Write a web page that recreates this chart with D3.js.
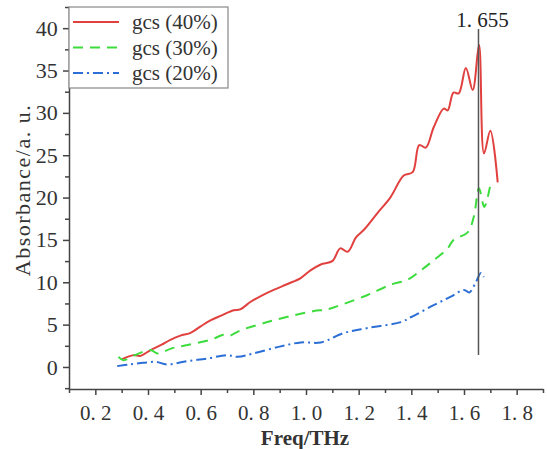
<!DOCTYPE html>
<html>
<head>
<meta charset="utf-8">
<script src="https://cdn.jsdelivr.net/npm/d3@7"></script>
<style>
  body { margin: 0; background: #fff; }
</style>
</head>
<body>
<svg id="chart"></svg>
<script>
// series values: [freq (THz), absorbance]
const gcs40 = [[0.30,0.9],[0.345,1.4],[0.37,1.3],[0.41,2.0],[0.45,2.6],[0.485,3.2],[0.523,3.7],[0.56,4.0],
  [0.60,4.8],[0.637,5.5],[0.68,6.1],[0.725,6.7],[0.75,6.8],[0.79,7.7],[0.83,8.4],[0.877,9.1],[0.93,9.8],
  [0.98,10.5],[1.017,11.4],[1.056,12.1],[1.10,12.5],[1.13,14.0],[1.158,13.6],[1.19,15.3],[1.22,16.2],
  [1.272,18.2],[1.32,20.0],[1.371,22.6],[1.405,23.0],[1.43,26.2],[1.455,25.9],[1.485,28.3],
  [1.523,30.5],[1.538,30.3],[1.56,32.4],[1.58,32.3],[1.607,35.3],[1.633,32.7],[1.657,38.0],[1.676,25.2],
  [1.70,27.9],[1.728,21.8]];
const gcs30 = [[0.288,1.2],[0.307,0.8],[0.35,1.4],[0.41,2.0],[0.436,1.6],[0.49,2.2],[0.55,2.6],[0.637,3.2],
  [0.687,3.8],[0.71,3.7],[0.75,4.3],[0.853,5.3],[0.953,6.1],[1.03,6.6],[1.08,6.8],[1.13,7.3],[1.234,8.5],
  [1.32,9.7],[1.386,10.3],[1.436,11.4],[1.485,12.6],[1.538,14.0],[1.56,15.0],[1.614,15.9],[1.637,17.7],
  [1.657,21.1],[1.677,18.9],[1.70,21.5]];
const gcs20 = [[0.283,0.1],[0.33,0.3],[0.383,0.5],[0.43,0.6],[0.473,0.3],[0.55,0.7],[0.626,1.0],
  [0.70,1.4],[0.74,1.2],[0.80,1.6],[0.90,2.4],[0.98,2.9],[1.056,2.9],[1.143,4.0],[1.234,4.6],
  [1.36,5.3],[1.40,5.9],[1.485,7.3],[1.55,8.3],[1.60,9.1],[1.62,8.8],[1.645,10.0],[1.664,11.1],
  [1.675,10.6]];
const seriesNames = ["gcs (40%)", "gcs (30%)", "gcs (20%)"];
const xTicks = [0.2, 0.4, 0.6, 0.8, 1.0, 1.2, 1.4, 1.6, 1.8];
const xMinor = [0.1, 0.3, 0.5, 0.7, 0.9, 1.1, 1.3, 1.5, 1.7, 1.9];
const yTicks = [0, 5, 10, 15, 20, 25, 30, 35, 40];
const yMinor = [-2.5, 2.5, 7.5, 12.5, 17.5, 22.5, 27.5, 32.5, 37.5, 42.5];
const markerFreq = 1.655;
const markerLabel = "1. 655";
const markerRange = [1.4, 39.9];

const width = 547, height = 449;
const font = "'Liberation Serif', 'DejaVu Serif', serif";
const svg = d3.select("#chart").attr("width", width).attr("height", height);

const x = d3.scaleLinear().domain([0.1, 1.9]).range([69, 543]);
const y = d3.scaleLinear().domain([-2.6, 42.5]).range([389, 7]);

const fmtX = d => d3.format(".1f")(d).replace(".", ". ");

// axes
const gx = svg.append("g").attr("transform", "translate(0,389)")
  .call(d3.axisBottom(x).tickValues(xTicks).tickSize(6).tickSizeOuter(0).tickFormat(fmtX));
svg.append("g").attr("transform", "translate(0,389)")
  .call(d3.axisBottom(x).tickValues(xMinor).tickSize(4).tickFormat(""))
  .call(g => g.select(".domain").remove());
const gy = svg.append("g").attr("transform", "translate(69,0)")
  .call(d3.axisLeft(y).tickValues(yTicks).tickSize(6).tickSizeOuter(0));
svg.append("g").attr("transform", "translate(69,0)")
  .call(d3.axisLeft(y).tickValues(yMinor).tickSize(4).tickFormat(""))
  .call(g => g.select(".domain").remove());

svg.selectAll(".domain, .tick line").attr("stroke", "#444").attr("stroke-width", 1.5);
gx.selectAll("text").attr("font-size", 21).attr("font-family", font).attr("dy", "1.05em").attr("fill", "#333");
gy.selectAll("text").attr("font-size", 22).attr("font-family", font).attr("dx", "-0.1em").attr("fill", "#333");

svg.append("text").attr("x", 305).attr("y", 445).attr("text-anchor", "middle")
  .attr("font-family", font).attr("font-size", 21).attr("font-weight", "bold").attr("fill", "#333")
  .text("Freq/THz");
svg.append("text").attr("transform", "translate(30,190) rotate(-90)").attr("text-anchor", "middle")
  .attr("font-family", font).attr("font-size", 22).attr("letter-spacing", 1.5).attr("fill", "#333")
  .text("Absorbance/a. u.");

// lines
const line = d3.line().x(d => x(d[0])).y(d => y(d[1])).curve(d3.curveCatmullRom.alpha(0.5));
const styles = [
  { data: gcs40, color: "#e0413f", dash: null },
  { data: gcs30, color: "#3ddc3d", dash: "10,7" },
  { data: gcs20, color: "#2b6fd6", dash: "10,4,2,4" }
];
styles.forEach(s => {
  svg.append("path").datum(s.data).attr("d", line)
    .attr("fill", "none").attr("stroke", s.color).attr("stroke-width", 2)
    .attr("stroke-dasharray", s.dash);
});

// marker line
svg.append("line").attr("x1", x(markerFreq)).attr("x2", x(markerFreq))
  .attr("y1", y(markerRange[0])).attr("y2", y(markerRange[1]))
  .attr("stroke", "#555").attr("stroke-width", 1.5);
svg.append("text").attr("x", x(markerFreq) + 4).attr("y", 27).attr("text-anchor", "middle")
  .attr("font-family", font).attr("font-size", 21).attr("fill", "#222").text(markerLabel);

// legend
const leg = svg.append("g");
leg.append("rect").attr("x", 69).attr("y", 7).attr("width", 159).attr("height", 81)
  .attr("fill", "#fff").attr("stroke", "#888").attr("stroke-width", 1.2);
styles.forEach((s, i) => {
  const ly = 22 + i * 25.5;
  leg.append("line").attr("x1", 73).attr("x2", 119).attr("y1", ly).attr("y2", ly)
    .attr("stroke", s.color).attr("stroke-width", 2).attr("stroke-dasharray", s.dash);
  leg.append("text").attr("x", 132).attr("y", ly + 7).attr("font-family", font)
    .attr("font-size", 21).attr("fill", "#333").text(seriesNames[i]);
});
</script>
</body>
</html>
